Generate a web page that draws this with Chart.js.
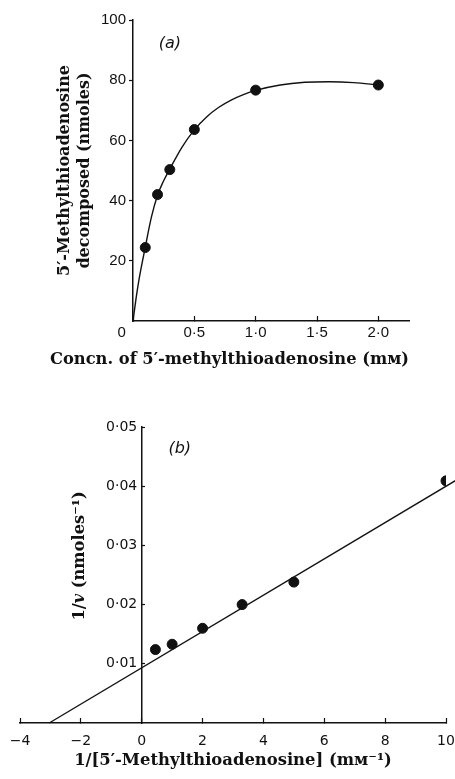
<!DOCTYPE html>
<html>
<head>
<meta charset="utf-8">
<script src="https://cdn.jsdelivr.net/npm/chart.js@4.4.1/dist/chart.umd.min.js"></script>
<style>
  body { margin: 0; background: #fff; }
  .panel { position: absolute; left: 0; width: 455px; }
  #wrapA { top: 0; height: 390px; }
  #wrapB { top: 390px; height: 389px; }
</style>
</head>
<body>
<div class="panel" id="wrapA"><canvas id="chartA" width="455" height="390"></canvas></div>
<div class="panel" id="wrapB"><canvas id="chartB" width="455" height="389"></canvas></div>
<script>
// (a) amount decomposed vs concentration
const concA = [0.1, 0.2, 0.3, 0.5, 1.0, 2.0];
const amountA = [24.4, 42, 50.3, 63.6, 76.7, 78.4];
// hand drawn curve
const curveConcA = [0, 0.025, 0.05, 0.1, 0.15, 0.2, 0.25, 0.3, 0.4, 0.5, 0.6, 0.7, 0.8, 0.9, 1.0, 1.2, 1.4, 1.6, 1.8, 2.0];
const curveAmountA = [0, 7.5, 14, 24.5, 34.5, 41.8, 46.6, 50.5, 57.8, 63.5, 67.8, 71.0, 73.4, 75.2, 76.6, 78.4, 79.3, 79.5, 79.2, 78.4];
const xTicksA = [0, 0.5, 1.0, 1.5, 2.0];
const yTicksA = [20, 40, 60, 80, 100];

// (b) double reciprocal plot
const invConcB = [0.45, 1, 2, 3.3, 5, 10];
const invAmountB = [0.0124, 0.0133, 0.0160, 0.0200, 0.0238, 0.0409];
const fitXB = [-3.04, 10.33];
const fitYB = [0, 0.0410];
const xTicksB = [-4, -2, 0, 2, 4, 6, 8, 10];
const yTicksB = [0.01, 0.02, 0.03, 0.04, 0.05];

const ink = '#111';

const toPts = (xs, ys) => xs.map((x, i) => ({x: x, y: ys[i]}));
const dot = s => s.replace('.', '\u00b7');

// small text drawn on top: panel letters and the mixed-font y title of (b)
const notes = {
  id: 'notes',
  afterDraw(chart, args, opts) {
    const ctx = chart.ctx;
    const sx = chart.scales.x, sy = chart.scales.y;
    ctx.save();
    ctx.fillStyle = ink;
    ctx.textBaseline = 'middle';
    for (const l of opts.labels || []) {
      ctx.font = l.font;
      ctx.textAlign = 'center';
      ctx.fillText(l.text, sx.getPixelForValue(l.x), sy.getPixelForValue(l.y));
    }
    if (opts.yTitle) {
      const t = opts.yTitle;
      ctx.translate(t.px, t.py);
      ctx.rotate(-Math.PI / 2);
      ctx.textAlign = 'left';
      let w = 0;
      for (const p of t.parts) { ctx.font = p.font; w += ctx.measureText(p.text).width; }
      let x = -w / 2;
      for (const p of t.parts) {
        ctx.font = p.font;
        ctx.fillText(p.text, x, 0);
        x += ctx.measureText(p.text).width;
      }
    }
    ctx.restore();
  }
};

function fixedTicks(list) {
  return scale => { scale.ticks = list.map(v => ({value: v})); };
}
function fixSize(h, w) {
  return scale => {
    if (h !== undefined) scale.height = h;
    if (w !== undefined) scale.width = w;
    scale.paddingLeft = scale.paddingRight = scale.paddingTop = scale.paddingBottom = 0;
  };
}

new Chart('chartA', {
  type: 'scatter',
  data: {
    datasets: [{
      data: toPts(concA, amountA),
      backgroundColor: ink,
      borderColor: ink,
      pointRadius: 5,
      showLine: false
    }, {
      type: 'line',
      data: toPts(curveConcA, curveAmountA),
      borderColor: ink,
      borderWidth: 1.4,
      pointRadius: 0,
      fill: false,
      cubicInterpolationMode: 'monotone',
      clip: false
    }]
  },
  options: {
    responsive: false,
    animation: false,
    events: [],
    layout: {padding: {left: 50, right: 46, top: 20, bottom: 0}},
    scales: {
      x: {
        type: 'linear',
        min: 0, max: 2.25,
        afterBuildTicks: fixedTicks(xTicksA),
        afterFit: fixSize(30),
        border: {color: ink, width: 1.5},
        grid: {drawOnChartArea: false, color: ink, tickLength: -5, tickWidth: 1.2},
        ticks: {
          padding: 8, color: ink,
          font: {family: 'Liberation Sans', size: 15},
          callback: v => v === 0 ? '0\u2003\u2002' : dot(v.toFixed(1))
        }
      },
      y: {
        min: 0, max: 100,
        afterBuildTicks: fixedTicks(yTicksA),
        afterFit: fixSize(undefined, 83),
        border: {color: ink, width: 1.5},
        grid: {drawOnChartArea: false, color: ink, tickLength: 4, tickWidth: 1.2},
        ticks: {padding: 3, color: ink, font: {family: 'Liberation Sans', size: 15}},
        title: {
          display: true,
          text: ['5\u2032-Methylthioadenosine', 'decomposed (nmoles)'],
          color: ink,
          font: {family: 'DejaVu Serif', weight: 'bold', size: 16, lineHeight: 20 / 16},
          padding: {top: 5, bottom: 0}
        }
      }
    },
    plugins: {
      legend: {display: false},
      tooltip: {enabled: false},
      title: {
        display: true,
        position: 'bottom',
        text: 'Concn. of 5\u2032-methylthioadenosine (m\u1d0d)',
        color: ink,
        font: {family: 'DejaVu Serif', weight: 'bold', size: 16.4, lineHeight: 18 / 16.4},
        padding: {top: 0, bottom: 21}
      },
      notes: {
        labels: [{text: '(a)', x: 0.30, y: 92, font: 'italic 16px "DejaVu Sans"'}]
      }
    }
  },
  plugins: [notes]
});

new Chart('chartB', {
  type: 'scatter',
  data: {
    datasets: [{
      data: toPts(invConcB, invAmountB),
      backgroundColor: ink,
      borderColor: ink,
      pointRadius: 5,
      showLine: false
    }, {
      type: 'line',
      data: toPts(fitXB, fitYB),
      borderColor: ink,
      borderWidth: 1.4,
      pointRadius: 0,
      fill: false,
      clip: false
    }]
  },
  options: {
    responsive: false,
    animation: false,
    events: [],
    layout: {padding: {left: 20, right: 9, top: 37, bottom: 0}},
    scales: {
      x: {
        type: 'linear',
        min: -4, max: 10,
        afterBuildTicks: fixedTicks(xTicksB),
        afterFit: fixSize(29),
        border: {color: ink, width: 1.5},
        grid: {drawOnChartArea: false, color: ink, tickLength: -5, tickWidth: 1.2},
        ticks: {
          padding: 14.6, color: ink,
          font: {family: 'DejaVu Sans', size: 14},
          callback: v => v < 0 ? '\u2212' + (-v) : String(v)
        }
      },
      y: {
        position: {x: 0},
        min: 0, max: 0.05,
        afterBuildTicks: fixedTicks(yTicksB),
        afterFit: fixSize(),
        border: {color: ink, width: 1.5},
        grid: {drawOnChartArea: false, color: ink, tickLength: -4, tickWidth: 1.2},
        ticks: {
          padding: 9, color: ink,
          font: {family: 'DejaVu Sans', size: 14},
          // trailing space keeps the label clear of the axis line
          callback: v => dot(v.toFixed(2)) + ' '
        }
      }
    },
    plugins: {
      legend: {display: false},
      tooltip: {enabled: false},
      title: {
        display: true,
        position: 'bottom',
        text: '1/[5\u2032-Methylthioadenosine] (m\u1d0d\u207b\u00b9)',
        color: ink,
        font: {family: 'DejaVu Serif', weight: 'bold', size: 16.4, lineHeight: 18 / 16.4},
        padding: {top: 0, bottom: 9}
      },
      notes: {
        labels: [{text: '(b)', x: 1.25, y: 0.0463, font: 'italic 16px "DejaVu Sans"'}],
        yTitle: {
          px: 80, py: 166,
          parts: [
            {text: '1/', font: 'bold 16.3px "DejaVu Serif"'},
            {text: 'v', font: 'italic bold 16.3px "DejaVu Serif"'},
            {text: ' (nmoles\u207b\u00b9)', font: 'bold 16.3px "DejaVu Serif"'}
          ]
        }
      }
    }
  },
  plugins: [notes]
});
</script>
</body>
</html>
